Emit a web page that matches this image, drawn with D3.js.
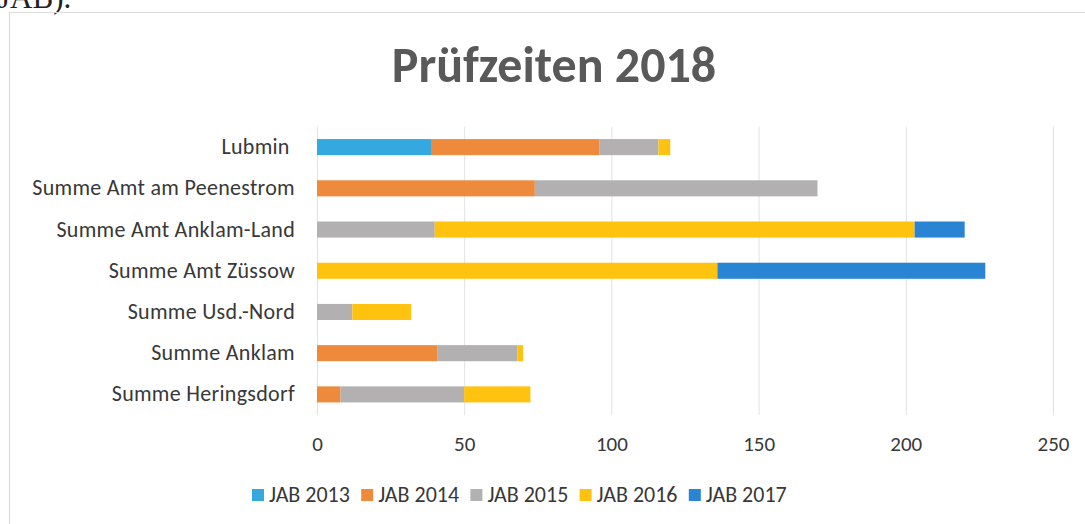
<!DOCTYPE html>
<html>
<head>
<meta charset="utf-8">
<script src="https://cdn.jsdelivr.net/npm/d3@7"></script>
<style>
  body { margin: 0; background: #fff; }
  svg { display: block; font-family: Carlito, Lato, "Open Sans", sans-serif; }
  svg text { font-family: Carlito, Lato, "Open Sans", sans-serif; }
  svg text.serif { font-family: "Liberation Serif", serif; }
  .cat { white-space: pre; }
</style>
</head>
<body>
<svg width="1085" height="524"></svg>
<script>
// chart data
const categories = ["Lubmin ", "Summe Amt am Peenestrom", "Summe Amt Anklam-Land", "Summe Amt Züssow",
  "Summe Usd.-Nord", "Summe Anklam", "Summe Heringsdorf"];
const seriesNames = ["JAB 2013", "JAB 2014", "JAB 2015", "JAB 2016", "JAB 2017"];
const jab2013 = [39, 0, 0, 0, 0, 0, 0];
const jab2014 = [57, 74, 0, 0, 0, 41, 8];
const jab2015 = [20, 96, 40, 0, 12, 27, 42];
const jab2016 = [4, 0, 163, 136, 20, 2, 22.5];
const jab2017 = [0, 0, 17, 91, 0, 0, 0];
const xTicks = [0, 50, 100, 150, 200, 250];
const colors = ["#35a8e0", "#ee8a3c", "#b2b0b0", "#ffc20e", "#2a84d4"];

const allSeries = [jab2013, jab2014, jab2015, jab2016, jab2017];
let rows = categories.map((c, i) => {
  let r = { cat: c };
  seriesNames.forEach((s, j) => r[s] = allSeries[j][i]);
  return r;
});

let svg = d3.select('svg');

// scanned page remains: text above and chart frame
svg.append('text')
  .attr('class', 'serif')
  .attr('x', -2).attr('y', 8)
  .style('font-size', '31px')
  .attr('fill', '#222')
  .text('JAB).');

svg.append('path')
  .attr('d', 'M9.5,524 L9.5,12.5 L1085,12.5')
  .attr('fill', 'none')
  .attr('stroke', '#dcdcdc')
  .attr('stroke-width', 1.2);

let xScale = d3.scaleLinear()
  .domain([0, 250])
  .range([317, 1053]);

let yScale = d3.scaleBand()
  .domain(categories)
  .range([126.5, 415])
  .paddingInner(0.61)
  .paddingOuter(0.305);

// gridlines
svg.append('g')
  .selectAll('line')
  .data(xTicks)
  .enter()
  .append('line')
  .attr('x1', d => xScale(d) + 0.5)
  .attr('x2', d => xScale(d) + 0.5)
  .attr('y1', 126.5)
  .attr('y2', 415)
  .attr('stroke', '#e2e2e2')
  .attr('stroke-width', 1);

// stacked bars
let stack = d3.stack().keys(seriesNames)(rows);

svg.append('g')
  .selectAll('g')
  .data(stack)
  .enter()
  .append('g')
  .attr('fill', (d, i) => colors[i])
  .selectAll('rect')
  .data(d => d)
  .enter()
  .append('rect')
  .attr('x', d => xScale(d[0]))
  .attr('y', d => yScale(d.data.cat))
  .attr('width', d => xScale(d[1]) - xScale(d[0]))
  .attr('height', yScale.bandwidth());

// category labels
let yAxis = d3.axisLeft(yScale).tickSize(0).tickPadding(0);
let yG = svg.append('g')
  .attr('transform', 'translate(295,0)')
  .call(yAxis);
yG.select('.domain').remove();
yG.selectAll('text')
  .attr('class', 'cat')
  .style('font-size', '22px')
  .style('letter-spacing', '0.3px')
  .attr('fill', '#383838');

// x tick labels
let xAxis = d3.axisBottom(xScale).tickValues(xTicks).tickSize(0).tickPadding(0);
let xG = svg.append('g')
  .attr('transform', 'translate(0,436)')
  .call(xAxis);
xG.select('.domain').remove();
xG.selectAll('text')
  .style('font-size', '21px')
  .attr('fill', '#383838');

// title
svg.append('text')
  .attr('x', 554)
  .attr('y', 82)
  .attr('text-anchor', 'middle')
  .style('font-size', '50px')
  .style('font-weight', 'bold')
  .attr('fill', '#595959')
  .text('Prüfzeiten 2018');

// legend
let legend = svg.append('g')
  .selectAll('g')
  .data(seriesNames)
  .enter()
  .append('g')
  .attr('transform', (d, i) => `translate(${252 + i * 109.2},489)`);

legend.append('rect')
  .attr('width', 12)
  .attr('height', 12)
  .attr('fill', (d, i) => colors[i]);

legend.append('text')
  .attr('x', 17)
  .attr('y', 12.5)
  .style('font-size', '22px')
  .attr('fill', '#383838')
  .text(d => d);
</script>
</body>
</html>
